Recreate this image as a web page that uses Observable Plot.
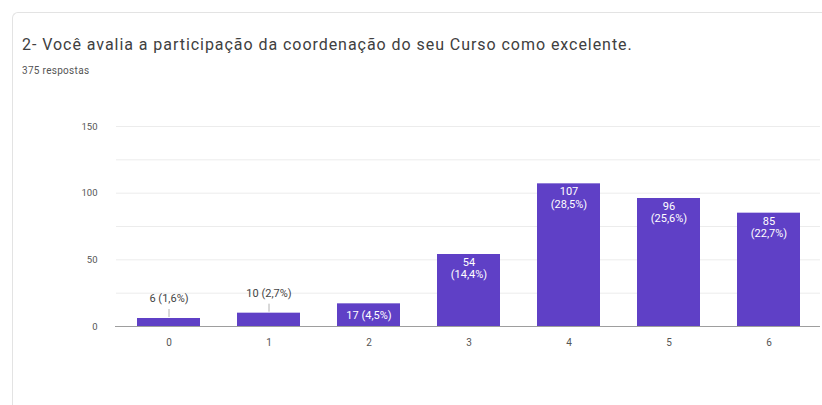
<!DOCTYPE html>
<html>
<head>
<meta charset="utf-8">
<script src="https://cdn.jsdelivr.net/npm/d3@7"></script>
<script src="https://cdn.jsdelivr.net/npm/@observablehq/plot@0.6"></script>
<style>
  html, body { margin: 0; padding: 0; background: #fff; width: 822px; height: 405px; overflow: hidden; font-family: Roboto, "Liberation Sans", Arial, sans-serif; }
  #card { position: absolute; left: 12px; top: 12px; width: 830px; height: 420px; border-left: 1px solid #e3e3e3; border-top: 1px solid #e3e3e3; border-radius: 6px 0 0 0; }
  #title { position: absolute; left: 22px; top: 35px; font-size: 16px; letter-spacing: 0.95px; color: #404040; white-space: nowrap; }
  #subtitle { position: absolute; left: 22px; top: 65px; font-size: 10px; letter-spacing: 0.3px; color: #555; white-space: nowrap; }
  #chart { position: absolute; left: 0; top: 110px; }
</style>
</head>
<body>
<div id="card"></div>
<div id="title">2- Você avalia a participação da coordenação do seu Curso como excelente.</div>
<div id="subtitle">375 respostas</div>
<div id="chart"></div>
<script>
const categories = ["0", "1", "2", "3", "4", "5", "6"];
const values = [6, 10, 17, 54, 107, 96, 85];
const percents = ["1,6%", "2,7%", "4,5%", "14,4%", "28,5%", "25,6%", "22,7%"];
const yTicks = [0, 50, 100, 150];
const yGrid = [25, 50, 75, 100, 125, 150];

const data = categories.map((c, i) => ({ c, v: values[i], p: percents[i] }));
const above = data.filter(d => d.v < 12);
const inside1 = data.filter(d => d.v >= 12 && d.v < 30);
const inside2 = data.filter(d => d.v >= 30);

const color = "#5f40c6";

const chart = Plot.plot({
  width: 822,
  height: 250,
  marginLeft: 116,
  marginRight: 2,
  marginTop: 16,
  marginBottom: 34,
  style: { fontFamily: "Roboto, 'Liberation Sans', Arial, sans-serif", background: "transparent" },
  x: { domain: categories, paddingInner: 0.37, paddingOuter: 0.18, label: null },
  y: { domain: [0, 150], label: null },
  marks: [
    Plot.ruleY(yGrid, { stroke: "#ececec", strokeWidth: 1 }),
    Plot.axisY(yTicks, { tickSize: 0, tickPadding: 19, fontSize: 9.5, fill: "#555" }),
    Plot.axisX({ tickSize: 0, tickPadding: 12, fontSize: 10, fill: "#555" }),
    Plot.barY(data, { x: "c", y: "v", fill: color }),
    Plot.ruleY([0], { stroke: "#9e9e9e", strokeWidth: 1.2, insetLeft: -1 }),
    Plot.ruleX(above, { x: "c", y1: "v", y2: "v", stroke: "#9e9e9e", strokeWidth: 0.8, insetTop: -9, insetBottom: 1 }),
    Plot.text(above, { x: "c", y: "v", text: d => `${d.v} (${d.p})`, dy: -20, fontSize: 11, fill: "#444" }),
    Plot.text(inside1, { x: "c", y: d => d.v / 2, text: d => `${d.v} (${d.p})`, fontSize: 11, fill: "#fff" }),
    Plot.text(inside2, { x: "c", y: "v", text: d => `${d.v}\n(${d.p})`, lineAnchor: "top", dy: 3, lineHeight: 1.1, fontSize: 11, fill: "#fff" })
  ]
});
document.getElementById("chart").appendChild(chart);
</script>
</body>
</html>
